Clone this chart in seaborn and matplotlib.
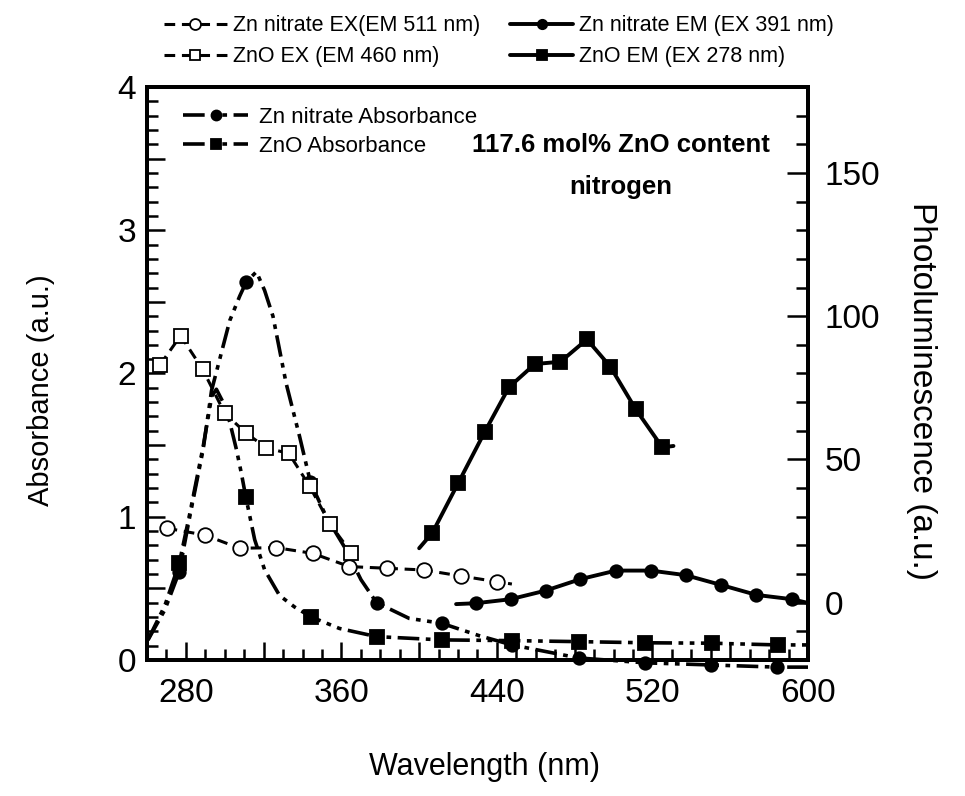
import matplotlib
matplotlib.use("Agg")
import pandas as pd
import matplotlib.pyplot as plt
import seaborn as sns
from matplotlib.ticker import MultipleLocator, FuncFormatter

# ---- data ----
# photoluminescence excitation / emission (right axis)
zn_ex_wl = [270.1, 289.7, 307.7, 326.5, 345.3, 364.1, 383.7, 402.6, 421.4, 440.2, 447.7]
zn_ex_pl = [26.0, 23.6, 19.0, 19.2, 17.2, 12.6, 12.0, 11.4, 9.3, 7.3, 6.5]
zn_ex_marks = list(range(10))

zno_ex_wl = [266.7, 277.3, 288.6, 300.0, 310.8, 321.4, 333.0, 343.6, 354.2, 365.0]
zno_ex_pl = [83.0, 93.2, 81.5, 66.1, 59.3, 54.0, 52.1, 40.7, 27.4, 17.5]

zn_em_wl = [419.0, 429.1, 447.0, 465.0, 482.9, 501.2, 519.1, 537.1, 555.2, 573.5, 591.8, 600.0]
zn_em_pl = [-0.5, -0.2, 1.2, 4.2, 8.2, 11.2, 11.2, 9.6, 6.2, 2.7, 1.2, -0.1]
zn_em_marks = list(range(1, 11))

zno_em_wl = [400.0, 406.8, 420.2, 433.8, 446.2, 459.5, 472.7, 486.3, 498.3, 511.4, 525.1, 530.8]
zno_em_pl = [19.0, 24.4, 41.9, 59.7, 75.2, 83.3, 84.1, 91.9, 82.4, 67.5, 54.2, 54.7]
zno_em_marks = list(range(1, 11))

# absorbance (left axis)
zn_abs_wl = [260.5, 269.2, 276.6, 282.0, 288.9, 293.2, 302.6, 307.7, 311.1, 316.3, 320.5,
             324.8, 331.6, 338.5, 344.1, 352.2, 362.4, 370.1, 378.1, 394.9, 411.6, 430.8,
             447.7, 482.0, 516.3, 550.3, 584.1, 600.0]
zn_abs = [0.14, 0.35, 0.616, 1.00, 1.47, 1.88, 2.37, 2.54, 2.64, 2.71, 2.58,
          2.40, 1.93, 1.56, 1.24, 1.00, 0.77, 0.56, 0.40, 0.29, 0.256, 0.17,
          0.105, 0.014, -0.02, -0.035, -0.05, -0.05]
zn_abs_marks = [2, 8, 14, 18, 20, 22, 23, 24, 25, 26]

zno_abs_wl = [260.5, 269.2, 276.6, 282.0, 288.9, 293.3, 295.7, 299.1, 302.6, 306.0, 308.6,
              310.8, 315.4, 320.5, 328.2, 335.9, 344.5, 359.0, 378.1, 412.0, 447.8, 482.0,
              516.3, 550.4, 584.6, 600.0]
zno_abs = [0.14, 0.38, 0.675, 1.02, 1.49, 1.84, 1.89, 1.80, 1.66, 1.47, 1.30,
           1.14, 0.84, 0.63, 0.45, 0.37, 0.30, 0.22, 0.163, 0.14, 0.135, 0.128,
           0.12, 0.117, 0.105, 0.105]
zno_abs_marks = [2, 11, 16, 18, 19, 20, 21, 22, 23, 24]

sns.set_theme(style="ticks", rc={"axes.edgecolor": "black", "xtick.color": "black",
                                 "ytick.color": "black", "text.color": "black",
                                 "axes.labelcolor": "black"})
plt.rcParams['font.family'] = ['Liberation Sans', 'DejaVu Sans']

fig = plt.figure(figsize=(9.65, 7.96), dpi=100)
ax = fig.add_axes([0.1523, 0.1709, 0.685, 0.7198])
ax2 = ax.twinx()


def draw(axis, wl, val, marker, face, ls, marks, ms, lw):
    df = pd.DataFrame({"wl": wl, "val": val})
    sns.lineplot(data=df, x="wl", y="val", ax=axis, color="black", linestyle=ls,
                 marker=marker, markersize=ms, markerfacecolor=face,
                 markeredgecolor="black", markeredgewidth=1.3, markevery=marks,
                 linewidth=lw, legend=False, sort=False, estimator=None, clip_on=False)
    return axis.lines[-1]


dash = (0, (3.5, 2.2))
dashdotdot = (0, (6, 1.8, 1.3, 1.8, 1.3, 1.8))

h_zn_ex = draw(ax2, zn_ex_wl, zn_ex_pl, "o", "white", dash, zn_ex_marks, 10.5, 2.2)
h_zno_ex = draw(ax2, zno_ex_wl, zno_ex_pl, "s", "white", dash, None, 10.5, 2.2)
h_zn_em = draw(ax2, zn_em_wl, zn_em_pl, "o", "black", "-", zn_em_marks, 9, 2.8)
h_zno_em = draw(ax2, zno_em_wl, zno_em_pl, "s", "black", "-", zno_em_marks, 9.5, 2.8)
h_zn_abs = draw(ax, zn_abs_wl, zn_abs, "o", "black", dashdotdot, zn_abs_marks, 9, 2.6)
h_zno_abs = draw(ax, zno_abs_wl, zno_abs, "s", "black", dashdotdot, zno_abs_marks, 9.5, 2.6)

# axes ranges and ticks
ax.set_xlim(260, 600)
ax.set_ylim(0, 4)
ax2.set_ylim(-20, 180)

ax.xaxis.set_major_locator(MultipleLocator(40))
ax.xaxis.set_minor_locator(MultipleLocator(10))
ax.xaxis.set_major_formatter(FuncFormatter(lambda v, p: f"{v:.0f}" if round(v - 280) % 80 == 0 else ""))
ax.yaxis.set_major_locator(MultipleLocator(0.5))
ax.yaxis.set_minor_locator(MultipleLocator(0.1))
ax.yaxis.set_major_formatter(FuncFormatter(lambda v, p: f"{v:.0f}" if abs(v - round(v)) < 1e-6 else ""))
ax2.yaxis.set_major_locator(MultipleLocator(50))
ax2.yaxis.set_minor_locator(MultipleLocator(10))

ax.tick_params(which="both", direction="in", width=1.8, labelsize=24)
ax.tick_params(which="major", length=13)
ax.tick_params(which="minor", length=8)
ax.tick_params(axis="x", pad=13)
ax.tick_params(axis="y", pad=8, right=False)
ax2.tick_params(axis="y", which="both", direction="in", width=1.8, labelsize=24, pad=12)
ax2.tick_params(axis="y", which="major", length=15)
ax2.tick_params(axis="y", which="minor", length=9)

for a in (ax, ax2):
    for s in a.spines.values():
        s.set_linewidth(2.8)

ax.set_xlabel("Wavelength (nm)", fontsize=22)
ax.set_ylabel("Absorbance (a.u.)", fontsize=21)
ax2.set_ylabel("Photoluminescence (a.u.)", fontsize=24, rotation=270)
ax.xaxis.set_label_coords(0.51, -0.16)
ax.yaxis.set_label_coords(-0.139, 0.47)
ax2.yaxis.set_label_coords(1.195, 0.47)

ax.text(0.717, 0.899, "117.6 mol% ZnO content", transform=ax.transAxes,
        ha="center", va="center", fontsize=18.5, fontweight="bold")
ax.text(0.717, 0.825, "nitrogen", transform=ax.transAxes,
        ha="center", va="center", fontsize=18.5, fontweight="bold")

ax.legend(handles=[h_zn_abs, h_zno_abs], labels=["Zn nitrate Absorbance", "ZnO Absorbance"],
          loc="upper left", bbox_to_anchor=(0.025, 1.0), frameon=False, fontsize=16,
          handlelength=2.9, handletextpad=0.5, labelspacing=0.35, markerscale=0.8)

fig.legend(handles=[h_zn_ex, h_zno_ex, h_zn_em, h_zno_em],
           labels=["Zn nitrate EX(EM 511 nm)", "ZnO EX (EM 460 nm)",
                   "Zn nitrate EM (EX 391 nm)", "ZnO EM (EX 278 nm)"],
           ncol=2, loc="upper left", bbox_to_anchor=(0.15, 1.005), frameon=False,
           fontsize=15.5, handlelength=2.9, handletextpad=0.3, columnspacing=1.4,
           labelspacing=0.45, markerscale=0.75)

fig.savefig("out.png", dpi=100, facecolor="white")
